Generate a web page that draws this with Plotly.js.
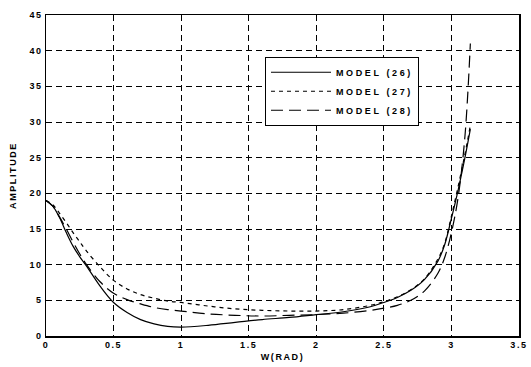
<!DOCTYPE html>
<html>
<head>
<meta charset="utf-8">
<script src="https://cdn.plot.ly/plotly-3.0.1.min.js"></script>
<style>
  html, body { margin: 0; padding: 0; background: #fff; }
  #chart { width: 531px; height: 367px; }
  .xtick text, .ytick text, .g-xtitle text, .g-ytitle text { letter-spacing: 1.6px; }
  .legendtext { letter-spacing: 2.6px; }
</style>
</head>
<body>
<div id="chart"></div>
<script>
const w = [0, 0.05, 0.1, 0.15, 0.2, 0.25, 0.3, 0.4, 0.5, 0.6, 0.7, 0.8, 0.9, 1.0, 1.2, 1.4, 1.6, 1.8, 2.0, 2.2, 2.4, 2.5, 2.6, 2.7, 2.8, 2.9, 2.95, 3.0, 3.05, 3.1, 3.14];
const model26 = [19, 18.2, 16.6, 14.5, 12.6, 11.1, 9.8, 7.0, 4.7, 3.3, 2.3, 1.7, 1.35, 1.25, 1.5, 1.9, 2.3, 2.6, 3.0, 3.4, 4.1, 4.7, 5.4, 6.4, 7.9, 10.5, 12.8, 16.5, 20.5, 25, 29];
const model27 = [19, 18.4, 17.2, 15.9, 14.5, 13.2, 11.9, 9.7, 7.8, 6.6, 5.8, 5.3, 4.9, 4.7, 4.2, 3.8, 3.6, 3.5, 3.5, 3.7, 4.3, 4.8, 5.5, 6.5, 8.0, 10.8, 13, 16.8, 21, 25.5, 29.5];
const model28 = [19, 18.2, 16.7, 15, 13.2, 11.5, 10, 7.6, 6.0, 5.1, 4.5, 4.0, 3.7, 3.5, 3.1, 2.9, 2.8, 2.9, 3.0, 3.2, 3.6, 3.9, 4.3, 5.0, 6.3, 8.8, 11, 14.5, 19.5, 28, 41];
const names = ['MODEL (26)', 'MODEL (27)', 'MODEL (28)'];
const xTicks = [0, 0.5, 1, 1.5, 2, 2.5, 3, 3.5];
const xTickText = ['0', '0.5', '1', '1.5', '2', '2.5', '3', '3.5'];
const yTicks = [0, 5, 10, 15, 20, 25, 30, 35, 40, 45];

const traces = [
  {x: w, y: model26, name: names[0], mode: 'lines', line: {color: '#000', width: 1.2, dash: 'solid', shape: 'spline'}},
  {x: w, y: model27, name: names[1], mode: 'lines', line: {color: '#000', width: 1.2, dash: '4px,4px', shape: 'spline'}},
  {x: w, y: model28, name: names[2], mode: 'lines', line: {color: '#000', width: 1.2, dash: '12px,6px', shape: 'spline'}}
];

const fontB = {family: 'Arial, Liberation Sans, sans-serif', size: 9, color: '#000', weight: 'bold'};

const axisCommon = {
  showline: true, linecolor: '#000', linewidth: 1.5, mirror: true,
  showgrid: true, gridcolor: '#000', gridwidth: 1, griddash: '6px,4px',
  zeroline: false, ticks: '',
  tickfont: fontB
};

const layout = {
  width: 531, height: 367,
  margin: {l: 46, r: 12, t: 15, b: 31},
  paper_bgcolor: '#fff', plot_bgcolor: '#fff',
  showlegend: true,
  legend: {
    x: 0.463, y: 0.87, xanchor: 'left', yanchor: 'top',
    bgcolor: '#fff', bordercolor: '#000', borderwidth: 1,
    font: fontB, itemwidth: 60, tracegroupgap: 0
  },
  xaxis: Object.assign({}, axisCommon, {
    range: [0, 3.5], tickvals: xTicks, ticktext: xTickText,
    title: {text: 'W(RAD)', standoff: 4, font: fontB}
  }),
  yaxis: Object.assign({}, axisCommon, {
    range: [0, 45], tickvals: yTicks,
    title: {text: 'AMPLITUDE', standoff: 11, font: fontB}
  })
};

Plotly.newPlot('chart', traces, layout, {staticPlot: true, displayModeBar: false});
</script>
</body>
</html>
